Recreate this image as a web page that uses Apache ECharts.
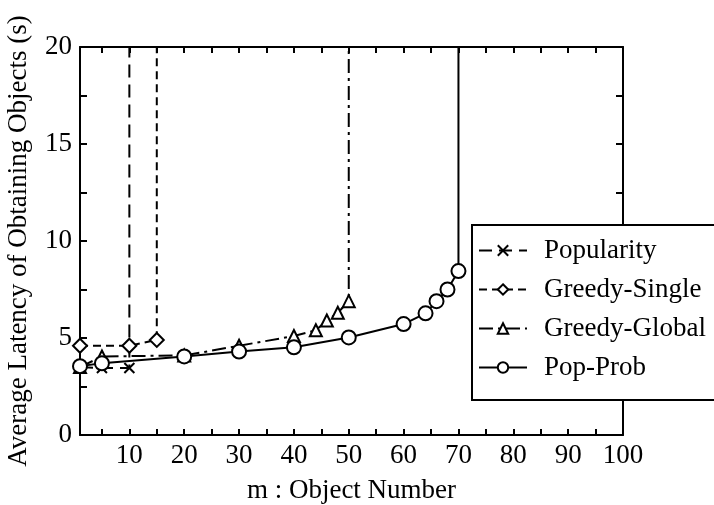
<!DOCTYPE html>
<html>
<head>
<meta charset="utf-8">
<script src="https://cdn.jsdelivr.net/npm/echarts@6/dist/echarts.min.js"></script>
<style>html,body{margin:0;padding:0;background:#fff;}#c{width:714px;height:505px;}</style>
</head>
<body>
<div id="c"></div>
<script>
// ---- data ----
const seriesNames = ['Popularity', 'Greedy-Single', 'Greedy-Global', 'Pop-Prob'];
const popX = [1, 5, 10];
const popY = [3.5, 3.45, 3.45];
const popDiverge = 10;
const gsX = [1, 10, 15];
const gsY = [4.6, 4.6, 4.9];
const gsDiverge = 15;
const ggX = [1, 5, 20, 30, 40, 44, 46, 48, 50];
const ggY = [3.5, 4.05, 4.1, 4.6, 5.1, 5.4, 5.9, 6.3, 6.9];
const ggDiverge = 50;
const ppX = [1, 5, 20, 30, 40, 50, 60, 64, 66, 68, 70];
const ppY = [3.55, 3.7, 4.05, 4.3, 4.52, 5.03, 5.72, 6.27, 6.9, 7.5, 8.45];
const ppDiverge = 70;
const xTickLabels = [10, 20, 30, 40, 50, 60, 70, 80, 90, 100];
const xTicks = [5, 10, 15, 20, 25, 30, 35, 40, 45, 50, 55, 60, 65, 70, 75, 80, 85, 90, 95, 100];
const yTickLabels = [0, 5, 10, 15, 20];
const yTicks = [0, 2.5, 5, 7.5, 10, 12.5, 15, 17.5, 20];

const X_MIN = 1, X_MAX = 100, Y_MIN = 0, Y_MAX = 20;
const FONT = 'Liberation Serif';
const FS = 27;

function build(xs, ys, div) {
  const d = xs.map((x, i) => [x, ys[i]]);
  d.push({ value: [div, Y_MAX], symbol: 'none' });
  return d;
}

const chart = echarts.init(document.getElementById('c'), null, { renderer: 'canvas' });
const axisCommon = {
  axisLine: { show: true, onZero: false, lineStyle: { color: '#000', width: 2 } },
  splitLine: { show: false },
  axisTick: { show: true, inside: true, length: 6, lineStyle: { color: '#000', width: 2 } },
};
const crossPath = 'path://M0,0L10,10M10,0L0,10';
const mk = { color: '#fff', borderColor: '#000', borderWidth: 2 };

chart.setOption({
  animation: false,
  backgroundColor: '#fff',
  textStyle: { fontFamily: FONT },
  grid: { left: 80, right: 91, top: 47, bottom: 70, containLabel: false, outerBoundsMode: 'none' },
  legend: {
    orient: 'vertical',
    left: 472, top: 225,
    padding: [12, 80, 19, 6],
    itemWidth: 48, itemHeight: 13, itemGap: 12,
    borderColor: '#000', borderWidth: 2, backgroundColor: '#fff',
    textStyle: { fontFamily: FONT, fontSize: FS, color: '#000', padding: [0, 0, 0, 12] },
    data: seriesNames
  },
  xAxis: [
    Object.assign({}, axisCommon, {
      type: 'value', min: X_MIN, max: X_MAX, position: 'bottom',
      name: 'm : Object Number', nameLocation: 'middle', nameGap: 42,
      nameTextStyle: { fontFamily: FONT, fontSize: FS, color: '#000' },
      axisTick: Object.assign({}, axisCommon.axisTick, { customValues: xTicks }),
      axisLabel: { customValues: xTickLabels, fontFamily: FONT, fontSize: FS, color: '#000', margin: 7 }
    }),
    Object.assign({}, axisCommon, {
      type: 'value', min: X_MIN, max: X_MAX, position: 'top',
      axisTick: Object.assign({}, axisCommon.axisTick, { customValues: xTicks }),
      axisLabel: { show: false }
    })
  ],
  yAxis: [
    Object.assign({}, axisCommon, {
      type: 'value', min: Y_MIN, max: Y_MAX, position: 'left',
      name: 'Average Latency of Obtaining Objects (s)', nameLocation: 'middle', nameGap: 48,
      nameTextStyle: { fontFamily: FONT, fontSize: FS, color: '#000' },
      axisTick: Object.assign({}, axisCommon.axisTick, { customValues: yTicks, length: 7 }),
      axisLabel: { customValues: yTickLabels, fontFamily: FONT, fontSize: FS, color: '#000', margin: 8 }
    }),
    Object.assign({}, axisCommon, {
      type: 'value', min: Y_MIN, max: Y_MAX, position: 'right',
      axisTick: Object.assign({}, axisCommon.axisTick, { customValues: yTicks, length: 7 }),
      axisLabel: { show: false }
    })
  ],
  series: [
    {
      name: seriesNames[0], type: 'line', data: build(popX, popY, popDiverge),
      symbol: crossPath, symbolSize: 10, itemStyle: { color: '#000', borderColor: '#000', borderWidth: 2 },
      lineStyle: { color: '#000', width: 2, type: [13, 7] }, clip: false
    },
    {
      name: seriesNames[1], type: 'line', data: build(gsX, gsY, gsDiverge),
      symbol: 'diamond', symbolSize: 14, itemStyle: mk,
      lineStyle: { color: '#000', width: 2, type: [8, 5] }, clip: false
    },
    {
      name: seriesNames[2], type: 'line', data: build(ggX, ggY, ggDiverge),
      symbol: 'triangle', symbolSize: 12, itemStyle: mk,
      lineStyle: { color: '#000', width: 2, type: [14, 5, 3, 5] }, clip: false
    },
    {
      name: seriesNames[3], type: 'line', data: build(ppX, ppY, ppDiverge),
      symbol: 'circle', symbolSize: 14, itemStyle: mk,
      lineStyle: { color: '#000', width: 2, type: 'solid' }, clip: false
    }
  ]
});
</script>
</body>
</html>
